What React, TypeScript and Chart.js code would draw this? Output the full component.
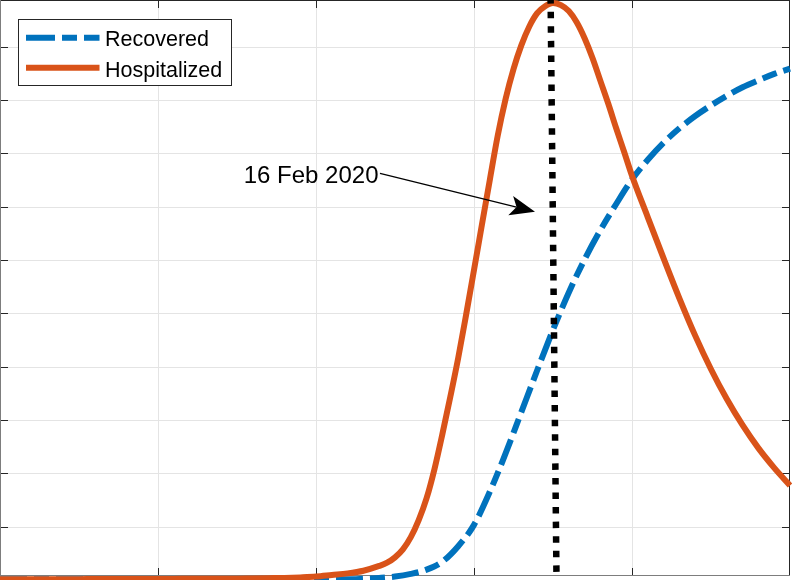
import React, { useEffect, useRef } from "react";
import { Chart, registerables } from "chart.js";

Chart.register(...registerables);

// ---------- data ----------
const recDays = [
  0, 1, 2, 3, 4, 5, 6, 7, 8, 9, 10, 11, 12, 13, 14, 15, 16, 17, 18, 19, 20, 21, 22, 23, 24, 25,
  26, 27, 28, 29, 30, 31, 32, 33, 34, 35, 36, 37, 38, 39, 40, 41, 42, 43, 44, 45, 46, 47, 48, 49, 50,
];

const recovered = [
  0.02, 0.02, 0.02, 0.02, 0.02, 0.02, 0.02, 0.02, 0.02, 0.02, 0.02, 0.02, 0.02, 0.02, 0.02, 0.02,
  0.02, 0.02, 0.02, 0.02, 0.02, 0.02, 0.02, 0.03, 0.045, 0.07, 0.12, 0.2, 0.35, 0.64, 1.04, 1.66,
  2.38, 3.16, 3.94, 4.7, 5.4, 6.02, 6.57, 7.06, 7.52, 7.89, 8.21, 8.48, 8.71, 8.91, 9.09, 9.25, 9.38,
  9.5, 9.6,
];

const hospDays = [
  0, 1, 2, 3, 4, 5, 6, 7, 8, 9, 10, 11, 12, 13, 14, 15, 16, 17, 18, 19, 20, 21, 22, 23, 24, 24.5,
  25, 25.5, 26, 26.5, 27, 27.5, 28, 28.5, 29, 29.5, 30, 30.5, 31, 31.5, 32, 32.5, 33, 33.5, 34,
  34.5, 35, 35.5, 36, 36.5, 37, 37.5, 38, 38.5, 39, 39.5, 40, 41, 42, 43, 44, 45, 46, 47, 48, 49, 50,
];

const hospitalized = [
  0.02, 0.02, 0.02, 0.02, 0.02, 0.02, 0.025, 0.025, 0.025, 0.025, 0.025, 0.025, 0.03, 0.03, 0.03,
  0.03, 0.035, 0.04, 0.045, 0.055, 0.07, 0.1, 0.13, 0.18, 0.27, 0.33, 0.43, 0.58, 0.81, 1.13, 1.54,
  2.09, 2.745, 3.44, 4.17, 4.98, 5.82, 6.67, 7.51, 8.34, 9.03, 9.59, 10.04, 10.39, 10.64, 10.77,
  10.83, 10.79, 10.68, 10.47, 10.17, 9.8, 9.37, 8.94, 8.48, 8.04, 7.59, 6.81, 6.04, 5.29, 4.59,
  3.96, 3.4, 2.91, 2.48, 2.11, 1.78,
];

// vertical marker line (day of 16 Feb 2020)
const markerDays = [34.85, 35.22];
const markerValues = [10.887, 0.081];

// annotation (text + arrow), in data units
const annotationText = "16 Feb 2020";
const arrowTail = [24.05, 7.636];
const arrowTip = [33.86, 6.916];

const seriesLabels = ["Recovered", "Hospitalized"];

const xRange = [0, 50];
const yRange = [0.081, 10.887];
const xTicks = [10, 20, 30, 40];
const yTicks = [1, 2, 3, 4, 5, 6, 7, 8, 9, 10];

// ---------- styles ----------
const BLUE = "#0072BD";
const ORANGE = "#D95319";
const AXIS = "#262626";
const GRID = "#e4e4e4";
const FONT = '"Liberation Sans", Arial, Helvetica, sans-serif';

const align = (p: number) => Math.round(p - 0.5) + 0.5;

const matlabAxes = {
  id: "matlabAxes",
  beforeDatasetsDraw(chart: any) {
    const { ctx, chartArea, scales } = chart;
    const { left, right, top, bottom } = chartArea;
    const x = scales.x;
    const y = scales.y;
    ctx.save();
    ctx.lineWidth = 1;
    ctx.strokeStyle = AXIS;
    ctx.beginPath();
    xTicks.forEach((v) => {
      const px = align(x.getPixelForValue(v));
      ctx.moveTo(px, top);
      ctx.lineTo(px, top + 8);
      ctx.moveTo(px, bottom);
      ctx.lineTo(px, bottom - 8);
    });
    yTicks.forEach((v) => {
      const py = align(y.getPixelForValue(v));
      ctx.moveTo(left, py);
      ctx.lineTo(left + 8, py);
      ctx.moveTo(right, py);
      ctx.lineTo(right - 8, py);
    });
    ctx.stroke();
    // box: top & right dark
    ctx.beginPath();
    ctx.moveTo(left, top + 0.5);
    ctx.lineTo(right, top + 0.5);
    ctx.moveTo(right - 0.5, top);
    ctx.lineTo(right - 0.5, bottom);
    ctx.stroke();
    // left & bottom (half cut in reference, lighter)
    ctx.strokeStyle = "#7d7d7d";
    ctx.beginPath();
    ctx.moveTo(left + 0.5, top);
    ctx.lineTo(left + 0.5, bottom);
    ctx.moveTo(left, bottom - 0.5);
    ctx.lineTo(right, bottom - 0.5);
    ctx.stroke();
    ctx.restore();
  },
  afterDraw(chart: any) {
    const { ctx, scales } = chart;
    const x = scales.x;
    const y = scales.y;
    ctx.save();

    // ----- annotation -----
    const tx = x.getPixelForValue(arrowTail[0]);
    const ty = y.getPixelForValue(arrowTail[1]);
    const hx = x.getPixelForValue(arrowTip[0]);
    const hy = y.getPixelForValue(arrowTip[1]);
    const dx = hx - tx;
    const dy = hy - ty;
    const len = Math.hypot(dx, dy);
    const ux = dx / len;
    const uy = dy / len;
    const nx = -uy;
    const ny = ux;
    const L = 25;
    const W = 10;
    const N = 19;
    ctx.strokeStyle = "#000";
    ctx.lineWidth = 1.3;
    ctx.beginPath();
    ctx.moveTo(tx, ty);
    ctx.lineTo(hx - N * ux, hy - N * uy);
    ctx.stroke();
    ctx.fillStyle = "#000";
    ctx.beginPath();
    ctx.moveTo(hx, hy);
    ctx.lineTo(hx - L * ux + W * nx, hy - L * uy + W * ny);
    ctx.lineTo(hx - N * ux, hy - N * uy);
    ctx.lineTo(hx - L * ux - W * nx, hy - L * uy - W * ny);
    ctx.closePath();
    ctx.fill();

    ctx.font = `24px ${FONT}`;
    ctx.textAlign = "right";
    ctx.textBaseline = "alphabetic";
    ctx.fillText(annotationText, tx - 1.5, ty + 10);

    // ----- legend -----
    ctx.fillStyle = "#ffffff";
    ctx.fillRect(18.5, 19.5, 213, 66);
    ctx.strokeStyle = AXIS;
    ctx.lineWidth = 1;
    ctx.strokeRect(18.5, 19.5, 213, 66);

    ctx.lineCap = "butt";
    ctx.lineWidth = 6;
    ctx.strokeStyle = BLUE;
    ctx.setLineDash([29, 7, 15, 7]);
    ctx.beginPath();
    ctx.moveTo(26, 37.7);
    ctx.lineTo(99.5, 37.7);
    ctx.stroke();
    ctx.setLineDash([]);
    ctx.strokeStyle = ORANGE;
    ctx.beginPath();
    ctx.moveTo(26, 67.7);
    ctx.lineTo(99.5, 67.7);
    ctx.stroke();

    ctx.fillStyle = "#000";
    ctx.font = `21.5px ${FONT}`;
    ctx.textAlign = "left";
    ctx.fillText(seriesLabels[0], 105, 45.7);
    ctx.fillText(seriesLabels[1], 105, 77.3);

    ctx.restore();
  },
};

export default function App() {
  const ref = useRef<HTMLCanvasElement>(null);

  useEffect(() => {
    document.body.style.margin = "0";
    const canvas = ref.current;
    if (!canvas) return;
    const chart = new Chart(canvas, {
      type: "line",
      data: {
        datasets: [
          {
            label: "16 Feb 2020",
            data: markerDays.map((d, i) => ({ x: d, y: markerValues[i] })),
            borderColor: "#000000",
            borderWidth: 6.5,
            borderDash: [6.5, 8.07],
            borderDashOffset: 2.85,
            borderCapStyle: "butt",
            pointRadius: 0,
            fill: false,
            order: 0,
            clip: false as any,
          },
          {
            label: seriesLabels[1],
            data: hospDays.map((d, i) => ({ x: d, y: hospitalized[i] })),
            borderColor: ORANGE,
            borderWidth: 6,
            cubicInterpolationMode: "monotone",
            borderCapStyle: "butt",
            borderJoinStyle: "round",
            pointRadius: 0,
            fill: false,
            order: 1,
            clip: false as any,
          },
          {
            label: seriesLabels[0],
            data: recDays.map((d, i) => ({ x: d, y: recovered[i] })),
            borderColor: BLUE,
            borderWidth: 6,
            borderDash: [27, 7, 15, 7],
            cubicInterpolationMode: "monotone",
            borderCapStyle: "butt",
            borderJoinStyle: "round",
            pointRadius: 0,
            fill: false,
            order: 2,
            clip: false as any,
          },
        ],
      },
      options: {
        animation: false,
        responsive: false,
        events: [],
        layout: { padding: { left: 0, top: 0, right: 2, bottom: 4 } },
        plugins: {
          legend: { display: false },
          tooltip: { enabled: false },
        },
        scales: {
          x: {
            type: "linear",
            min: xRange[0],
            max: xRange[1],
            ticks: { display: false },
            grid: { color: GRID, lineWidth: 1, drawTicks: false },
            border: { display: false },
            afterBuildTicks: (s: any) => {
              s.ticks = xTicks.map((v) => ({ value: v }));
            },
            afterFit: (s: any) => {
              s.height = 0;
            },
          },
          y: {
            type: "linear",
            min: yRange[0],
            max: yRange[1],
            ticks: { display: false },
            grid: { color: GRID, lineWidth: 1, drawTicks: false },
            border: { display: false },
            afterBuildTicks: (s: any) => {
              s.ticks = yTicks.map((v) => ({ value: v }));
            },
            afterFit: (s: any) => {
              s.width = 0;
            },
          },
        },
      },
      plugins: [matlabAxes],
    });
    return () => chart.destroy();
  }, []);

  return (
    <div style={{ position: "absolute", left: 0, top: 0, width: 792, height: 580 }}>
      <canvas ref={ref} width={792} height={580} style={{ display: "block" }} />
    </div>
  );
}
